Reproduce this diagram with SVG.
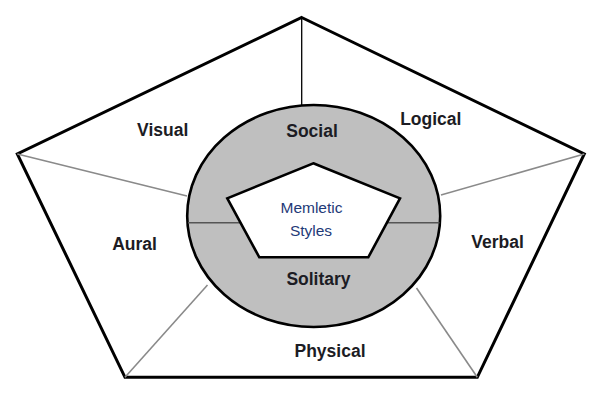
<svg xmlns="http://www.w3.org/2000/svg" width="592" height="406" viewBox="0 0 592 406">
<style>
.lbl{font-family:"Liberation Sans",Arial,sans-serif;font-weight:bold;font-size:17.5px;fill:#1c1c24;text-anchor:middle}
.ctr{font-family:"Liberation Sans",Arial,sans-serif;font-size:15.5px;fill:#1f3a78;text-anchor:middle}
.spoke{stroke:#8a8a8a;stroke-width:1.6;fill:none}
</style>
<rect width="592" height="406" fill="#ffffff"/>
<g id="outer">
<polygon points="301.7,17.5 584.3,154 477.3,377.3 125,377.3 17.3,154" fill="#ffffff" stroke="#000" stroke-width="3" stroke-linejoin="miter"/>
</g>
<g id="connectors">
<line x1="301.7" y1="17.5" x2="301.7" y2="106" stroke="#000" stroke-width="1.3"/>
<line class="spoke" x1="17.3" y1="154" x2="187" y2="196"/>
<line class="spoke" x1="584.3" y1="154" x2="441" y2="195"/>
<line class="spoke" x1="125" y1="377.3" x2="207.5" y2="285"/>
<line class="spoke" x1="477.3" y1="377.3" x2="416.5" y2="288"/>
</g>
<g id="circle">
<ellipse cx="313.7" cy="216" rx="126.5" ry="111" fill="#bfbfbf" stroke="#000" stroke-width="2.6"/>
<line x1="188" y1="222.7" x2="439.5" y2="222.7" stroke="#555" stroke-width="1.5"/>
</g>
<g id="center">
<polygon points="313.3,163.3 400,198.3 368.3,257.3 259.3,257.3 227.3,198.3" fill="#ffffff" stroke="#000" stroke-width="2.6" stroke-linejoin="miter"/>
<text class="ctr" x="311.5" y="213.3">Memletic</text>
<text class="ctr" x="311" y="236">Styles</text>
</g>
<g id="social"><text class="lbl" x="312" y="136.5">Social</text></g>
<g id="solitary"><text class="lbl" x="318.5" y="285">Solitary</text></g>
<g id="visual"><text class="lbl" x="162.7" y="136">Visual</text></g>
<g id="logical"><text class="lbl" x="430.8" y="125">Logical</text></g>
<g id="aural"><text class="lbl" x="134.5" y="250">Aural</text></g>
<g id="verbal"><text class="lbl" x="497.5" y="247.7">Verbal</text></g>
<g id="physical"><text class="lbl" x="330" y="356.7">Physical</text></g>
</svg>
